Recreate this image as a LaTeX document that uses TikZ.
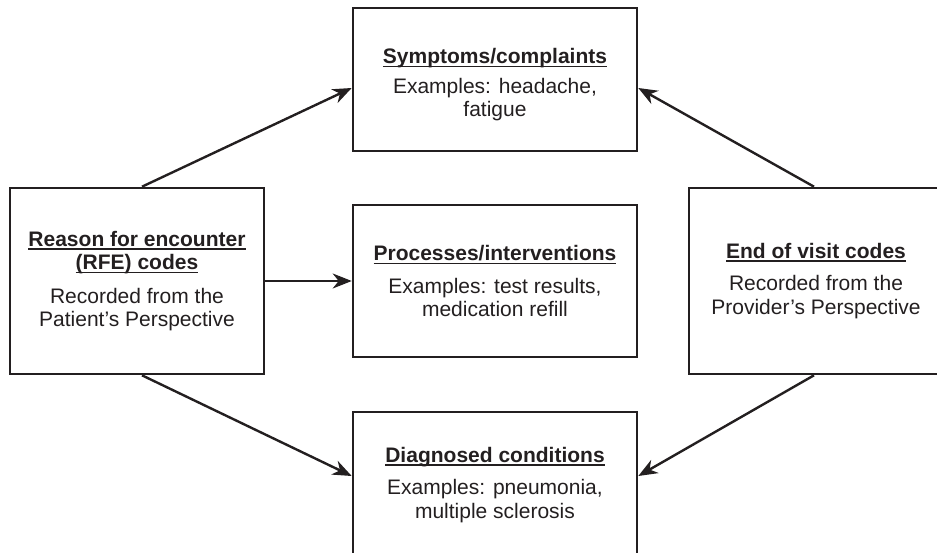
\documentclass[tikz,border=0pt]{standalone}
\usepackage{fontspec}
\setmainfont{Liberation Sans}
\usetikzlibrary{arrows.meta}
\definecolor{ink}{HTML}{231F20}
\newcommand\hdul[1]{\setbox0\hbox{\bfseries #1}\rlap{\rule[-3.5pt]{\wd0}{1.5pt}}\box0}
\begin{document}
\begin{tikzpicture}[x=1pt,y=-1pt,
 box/.style={draw=ink, line width=2.6pt, align=center, text=ink,
   font=\fontsize{21}{23.5}\selectfont, inner sep=0pt},
 wbox/.style={box, minimum width=284pt},
 sbox/.style={box, minimum width=254pt, minimum height=186pt},
 conn/.style={draw=ink, line width=2.4pt, -{Stealth[length=19pt,width=15pt,inset=6pt]}}]
\useasboundingbox (0,0) rectangle (937,553);
\clip (0,0) rectangle (937,553);
\node[wbox, minimum height=143pt] (top) at (495,79.5)
  {\rule{0pt}{26pt}\hdul{Symptoms/complaints}\\[6pt] Examples: headache,\\ fatigue};
\node[wbox, minimum height=152pt] (mid) at (495,281)
  {\hdul{Processes/interventions}\\[9pt] Examples: test results,\\ medication refill};
\node[wbox, minimum height=146pt] (bot) at (495,485)
  {\hdul{Diagnosed conditions}\\[9pt] Examples: pneumonia,\\ multiple sclerosis};
\node[sbox] (left) at (137,281)
  {\hdul{Reason for encounter}\\ \hdul{(RFE) codes}\\[10pt] Recorded from the\\ Patient’s Perspective};
\node[sbox] (right) at (816,281)
  {\hdul{End of visit codes}\\[9pt] Recorded from the\\ Provider’s Perspective};
\draw[conn] ([xshift=5pt]left.north) -- ([yshift=-8.5pt]top.west);
\draw[conn] (left.east) -- (mid.west);
\draw[conn] ([xshift=5pt]left.south) -- ([yshift=9pt]bot.west);
\draw[conn] ([xshift=-2pt]right.north) -- ([yshift=-8.5pt]top.east);
\draw[conn] ([xshift=-2pt]right.south) -- ([yshift=9pt]bot.east);
\end{tikzpicture}
\end{document}
